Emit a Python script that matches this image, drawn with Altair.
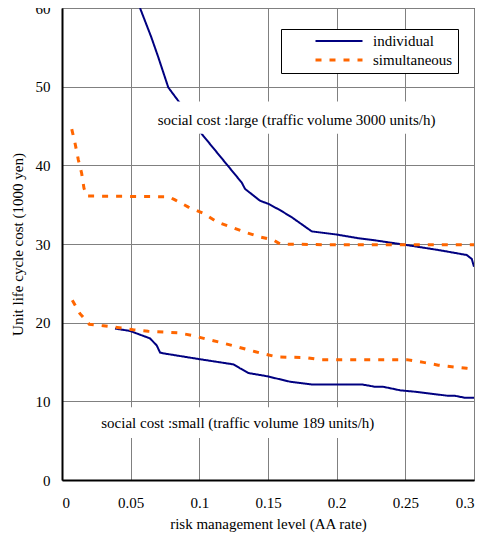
import altair as alt
import pandas as pd

# ---- data ----
ind_large_x = [0.0568, 0.0650, 0.0700, 0.0774, 0.0859, 0.1017, 0.1224, 0.1309, 0.1333, 0.1442, 0.1503,
               0.1588, 0.1673, 0.1819, 0.2001, 0.2170, 0.2265, 0.2498, 0.2753, 0.2947, 0.2984, 0.3000]
ind_large_y = [60.0, 56.3, 53.8, 49.9, 47.9, 44.0, 39.6, 37.8, 37.0, 35.5, 35.1,
               34.3, 33.4, 31.6, 31.2, 30.7, 30.5, 29.9, 29.2, 28.6, 28.1, 27.1]

sim_large_x = [0.0071, 0.0095, 0.0119, 0.0143, 0.0160, 0.0180, 0.0780, 0.0823, 0.0920, 0.1030, 0.1130,
               0.1224, 0.1333, 0.1442, 0.1540, 0.1588, 0.1930, 0.2500, 0.3000]
sim_large_y = [44.6, 42.8, 40.7, 39.0, 37.1, 36.1, 36.0, 35.6, 34.7, 33.9, 32.8,
               32.2, 31.5, 30.9, 30.5, 30.0, 29.9, 29.9, 29.9]

ind_small_x = [0.0386, 0.0495, 0.0641, 0.0690, 0.0714, 0.0738, 0.1005, 0.1248, 0.1296, 0.1357, 0.1490,
               0.1660, 0.1819, 0.2183, 0.2280, 0.2340, 0.2462, 0.2583, 0.2813, 0.2862, 0.2935, 0.3000]
ind_small_y = [19.25, 18.95, 18.0, 17.1, 16.2, 16.1, 15.35, 14.7, 14.2, 13.6, 13.2,
               12.5, 12.15, 12.15, 11.85, 11.85, 11.4, 11.2, 10.7, 10.7, 10.45, 10.45]

sim_small_x = [0.0075, 0.0131, 0.0199, 0.0301, 0.0417, 0.0519, 0.0628, 0.0738, 0.0847, 0.0944, 0.1053,
               0.1151, 0.1260, 0.1345, 0.1454, 0.1563, 0.1782, 0.1879, 0.2510, 0.2632, 0.2740, 0.2838,
               0.2947, 0.3000]
sim_small_y = [22.85, 21.15, 19.8, 19.6, 19.35, 19.1, 18.9, 18.8, 18.7, 18.4, 17.9,
               17.5, 17.0, 16.6, 16.1, 15.65, 15.55, 15.3, 15.3, 14.95, 14.6, 14.4,
               14.2, 14.1]

series_names = ["individual", "simultaneous"]
series_colors = ["#000080", "#FF6600"]

annot_text = ["social cost :large (traffic volume 3000 units/h)",
              "social cost :small (traffic volume 189 units/h)"]
annot_x = [0.1708, 0.1280]
annot_y = [45.7, 7.23]
box_x = [0.064, 0.024]
box_x2 = [0.279, 0.2316]
box_y = [48.1, 9.26]
box_y2 = [44.0, 5.33]

x_ticks = [0, 0.05, 0.1, 0.15, 0.2, 0.25, 0.3]
y_ticks = [0, 10, 20, 30, 40, 50, 60]

FONT = "Liberation Serif"

rows = []
for name, grp, xs, ys in [
    ("individual", "large", ind_large_x, ind_large_y),
    ("simultaneous", "large", sim_large_x, sim_large_y),
    ("individual", "small", ind_small_x, ind_small_y),
    ("simultaneous", "small", sim_small_x, sim_small_y),
]:
    for i, (xv, yv) in enumerate(zip(xs, ys)):
        rows.append({"series": name, "group": grp, "x": xv, "y": yv, "order": i})
df = pd.DataFrame(rows)

annot_df = pd.DataFrame({"text": annot_text, "x": annot_x, "y": annot_y,
                         "bx": box_x, "bx2": box_x2, "by": box_y, "by2": box_y2})

xscale = alt.Scale(domain=[0, 0.3], nice=False, zero=False)
yscale = alt.Scale(domain=[0, 60], nice=False)

lines = alt.Chart(df).mark_line(clip=True).encode(
    x=alt.X("x:Q", scale=xscale,
            axis=alt.Axis(title="risk management level (AA rate)", values=x_ticks,
                          labelExpr="datum.value == 0 ? '0' : format(datum.value, '.2~f')")),
    y=alt.Y("y:Q", scale=yscale,
            axis=alt.Axis(title="Unit life cycle cost (1000 yen)", values=y_ticks)),
    color=alt.Color("series:N", scale=alt.Scale(domain=series_names, range=series_colors),
                    legend=alt.Legend(title=None, orient="none", legendX=219, legendY=21,
                                      symbolType="stroke", symbolSize=2209, clipHeight=14,
                                      rowPadding=4, padding=5, symbolOffset=28, labelOffset=9,
                                      labelAlign="left",
                                      strokeColor="black", fillColor="white",
                                      labelFont=FONT, labelFontSize=15, labelColor="black")),
    strokeDash=alt.StrokeDash("series:N", scale=alt.Scale(domain=series_names, range=[[1, 0], [6, 8]])),
    strokeWidth=alt.StrokeWidth("series:N", scale=alt.Scale(domain=series_names, range=[2, 3])),
    detail="group:N",
    order="order:Q",
)

boxes = alt.Chart(annot_df).mark_rect(fill="white", stroke=None).encode(
    x="bx:Q", x2="bx2:Q", y="by:Q", y2="by2:Q"
)

texts = alt.Chart(annot_df).mark_text(font=FONT, fontSize=15, color="black",
                                      align="center", baseline="middle").encode(
    x="x:Q", y="y:Q", text="text:N"
)

chart = alt.layer(lines, boxes, texts).properties(
    width=412, height=472,
    autosize=alt.AutoSizeParams(type="none"),
    padding={"left": 54, "top": 0, "right": 1, "bottom": 55},
).configure_view(
    stroke="black", strokeWidth=1
).configure_axis(
    grid=True, gridColor="#808080", gridWidth=1, gridOpacity=1,
    domainColor="black", domainWidth=2,
    ticks=False, tickSize=0,
    labelFont=FONT, labelFontSize=15, labelColor="black",
    titleFont=FONT, titleFontSize=15, titleFontWeight="normal", titleColor="black",
).configure_axisX(
    labelPadding=15, titlePadding=6
).configure_axisY(
    labelPadding=12, titlePadding=10
)

chart.save("out.html", embed_options={"renderer": "svg", "actions": False})
